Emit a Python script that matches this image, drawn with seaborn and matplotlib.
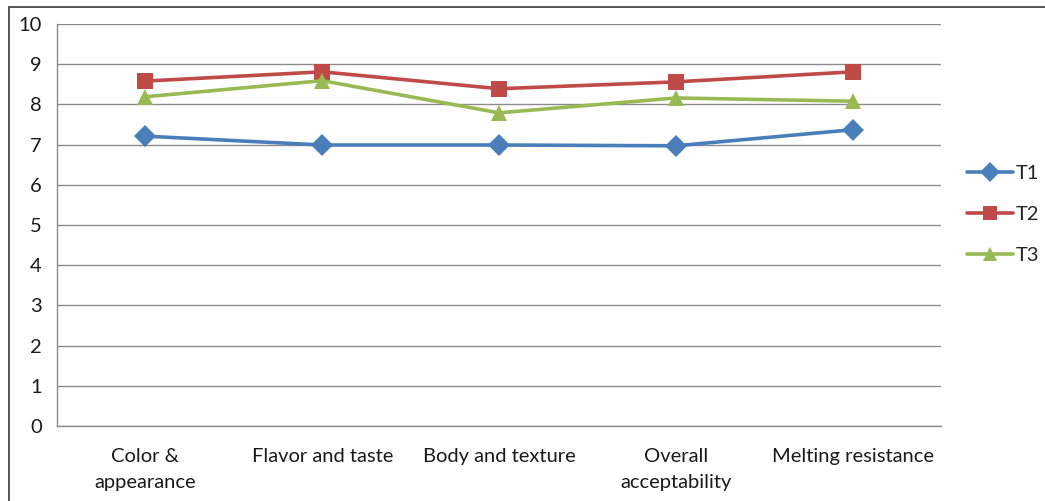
import matplotlib
matplotlib.use("Agg")
import matplotlib.pyplot as plt
from matplotlib.patches import Rectangle
import seaborn as sns
import pandas as pd

categories = ["Color &\nappearance", "Flavor and taste", "Body and texture",
              "Overall\nacceptability", "Melting resistance"]
t1 = [7.21, 6.99, 6.99, 6.97, 7.37]
t2 = [8.58, 8.81, 8.39, 8.56, 8.81]
t3 = [8.19, 8.59, 7.79, 8.16, 8.08]
series_names = ["T1", "T2", "T3"]

rows = []
for name, vals in zip(series_names, [t1, t2, t3]):
    for cat, v in zip(categories, vals):
        rows.append({"Attribute": cat, "Score": v, "Treatment": name})
df = pd.DataFrame(rows)

sns.set_theme(style="white")
plt.rcParams["font.family"] = ["Lato", "DejaVu Sans"]

fig = plt.figure(figsize=(10.45, 5.01), dpi=100)
ax = fig.add_axes([57 / 1045, 75 / 501, (941 - 57) / 1045, (426 - 24) / 501])

palette = {"T1": "#4A7EBB", "T2": "#BE4B48", "T3": "#98B954"}
markers = {"T1": "D", "T2": "s", "T3": "^"}
sns.lineplot(data=df, x="Attribute", y="Score", hue="Treatment", style="Treatment",
             palette=palette, markers=markers, dashes=False, sort=False,
             linewidth=2.6, markersize=11, markeredgewidth=0, ax=ax)

ax.set_xlim(-0.5, len(categories) - 0.5)
ax.set_ylim(0, 10)
ax.set_yticks(range(0, 11))
ax.yaxis.grid(True, color="#8C8C8C", linewidth=1.0)
ax.xaxis.grid(False)
ax.set_xlabel("")
ax.set_ylabel("")

for side in ["top", "right"]:
    ax.spines[side].set_visible(False)
for side in ["left", "bottom"]:
    ax.spines[side].set_color("#8C8C8C")
    ax.spines[side].set_linewidth(1.0)

fs = 14.5
ax.set_xticks(range(len(categories)))
ax.set_xticklabels(categories, fontsize=fs, color="#1a1a1a", linespacing=1.6)
ax.set_xticks([i - 0.5 for i in range(len(categories) + 1)], minor=True)
ax.tick_params(axis="x", which="major", length=0, pad=16)
ax.tick_params(axis="x", which="minor", length=5, color="#8C8C8C", width=1, direction="out")
ax.tick_params(axis="y", length=5, color="#8C8C8C", width=1, direction="out",
               labelsize=fs, labelcolor="#1a1a1a", pad=6)

handles, labels = ax.get_legend_handles_labels()
ax.legend(handles, labels, loc="center left", bbox_to_anchor=(1.029, 0.526),
          frameon=False, fontsize=fs, handlelength=2.3, handletextpad=0.15,
          labelspacing=1.2, markerscale=0.95, borderpad=0, borderaxespad=0)

fig.patches.append(Rectangle((9 / 1045, -0.05), 1.2, (501 - 7) / 501 + 0.05,
                             transform=fig.transFigure, fill=False,
                             edgecolor="#3a3a3a", linewidth=1.2))

fig.savefig("out.png", dpi=100, facecolor="white")
